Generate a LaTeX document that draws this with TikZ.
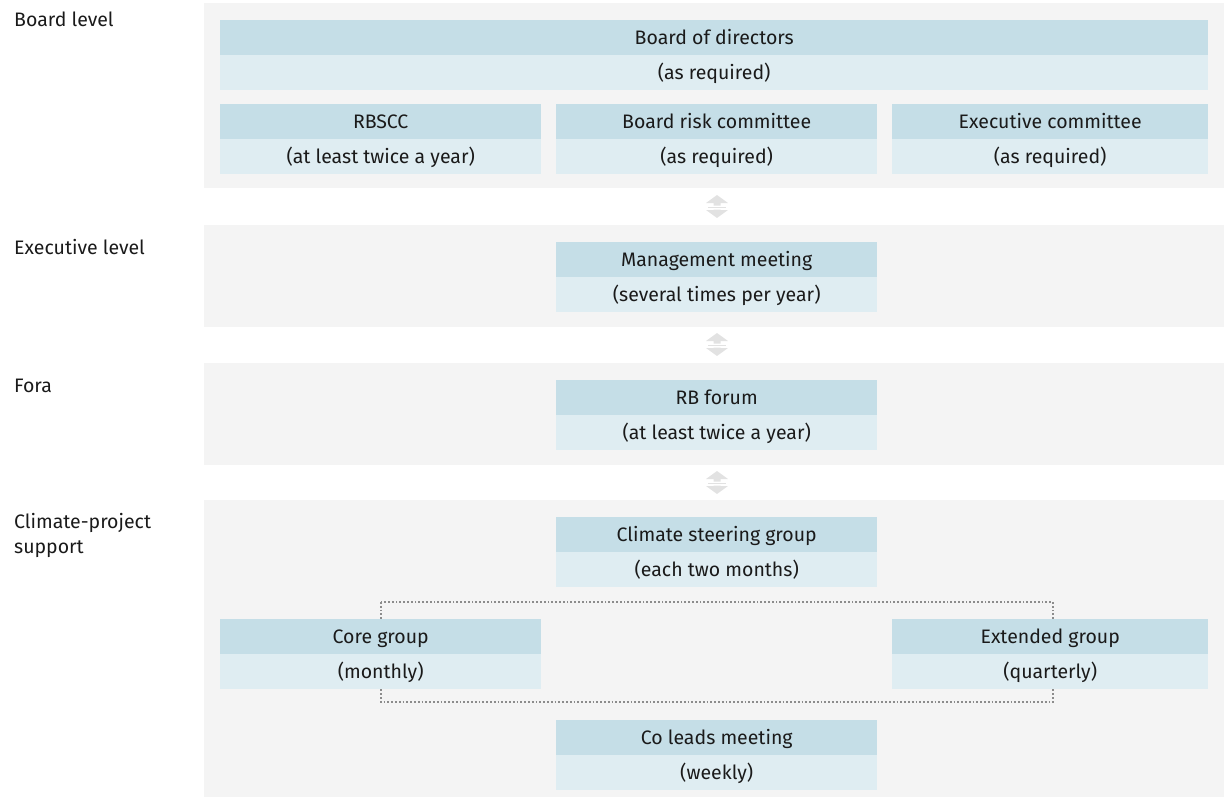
\documentclass[tikz,border=0pt]{standalone}
\usepackage{fontspec}
\setmainfont{Fira Sans}
\definecolor{bandbg}{HTML}{F4F4F4}
\definecolor{toprowc}{HTML}{C5DEE7}
\definecolor{botrowc}{HTML}{DFEDF2}
\definecolor{txtc}{HTML}{1A1A1A}
\definecolor{arrc}{HTML}{E2E2E2}
\definecolor{dotc}{HTML}{8C8C8C}
\usetikzlibrary{calc}
\newcommand\meetbox[6]{%
  \node[toprow, minimum width=#4, anchor=north west] (#1) at (#2,#3) {#5};
  \node[botrow, minimum width=#4, anchor=north west] (#1-s) at (#1.south west) {#6};
}
\newcommand\updown[1]{%
  \fill[arrc] ($(#1)+(0,-11)$) -- ($(#1)+(11,-3)$) -- ($(#1)+(3.5,-3)$) -- ($(#1)+(3.5,-0.5)$) -- ($(#1)+(-3.5,-0.5)$) -- ($(#1)+(-3.5,-3)$) -- ($(#1)+(-11,-3)$) -- cycle;
  \fill[arrc] ($(#1)+(-9,0.8)$) rectangle ($(#1)+(9,2.2)$);
  \fill[arrc] ($(#1)+(0,12)$) -- ($(#1)+(11,4)$) -- ($(#1)+(3.5,4)$) -- ($(#1)+(3.5,3.5)$) -- ($(#1)+(-3.5,3.5)$) -- ($(#1)+(-3.5,4)$) -- ($(#1)+(-11,4)$) -- cycle;
}
\tikzset{
  band/.style={fill=bandbg, draw=none},
  boxfont/.style={font=\fontsize{19.5}{23}\selectfont, text=txtc, text height=16pt, text depth=2.5pt},
  toprow/.style={fill=toprowc, draw=none, minimum height=34.5pt, inner sep=0pt, boxfont},
  botrow/.style={fill=botrowc, draw=none, minimum height=34.5pt, inner sep=0pt, boxfont},
  lvl/.style={anchor=base west, text=txtc, inner sep=0pt, font=\fontsize{19.5}{25}\selectfont, align=left},
  bracket/.style={draw=dotc, line width=1.8pt, dotted}
}
\begin{document}
\begin{tikzpicture}[x=1pt,y=-1pt]
\useasboundingbox (0,0) rectangle (1224,800);
% bands
\fill[band] (204,3) rectangle (1224,188);
\fill[band] (204,225) rectangle (1224,327);
\fill[band] (204,363) rectangle (1224,465);
\fill[band] (204,500) rectangle (1224,797);
% level labels
\node[lvl] (l1) at (14,27) {Board level};
\node[lvl] (l2) at (14,254) {Executive level};
\node[lvl] (l3) at (14,392) {Fora};
\node[lvl] (l4) at (14,528) {Climate-project};
\node[lvl] (l4b) at (14,553) {support};
% dotted bracket behind groups
\draw[bracket] (381,602) rectangle (1053,702);
% boxes
\meetbox{bod}{220}{20}{988}{Board of directors}{(as required)}
\meetbox{rbscc}{220}{104}{321}{RBSCC}{(at least twice a year)}
\meetbox{brc}{556}{104}{321}{Board risk committee}{(as required)}
\meetbox{exc}{892}{104}{316}{Executive committee}{(as required)}
\meetbox{mm}{556}{242}{321}{Management meeting}{(several times per year)}
\meetbox{rbf}{556}{380}{321}{RB forum}{(at least twice a year)}
\meetbox{csg}{556}{517}{321}{Climate steering group}{(each two months)}
\meetbox{core}{220}{619}{321}{Core group}{(monthly)}
\meetbox{ext}{892}{619}{316}{Extended group}{(quarterly)}
\meetbox{col}{556}{720}{321}{Co leads meeting}{(weekly)}
% up/down arrows between levels
\coordinate (a1) at (717,206);
\coordinate (a2) at (717,344);
\coordinate (a3) at (717,482);
\updown{a1}
\updown{a2}
\updown{a3}
\end{tikzpicture}
\end{document}
